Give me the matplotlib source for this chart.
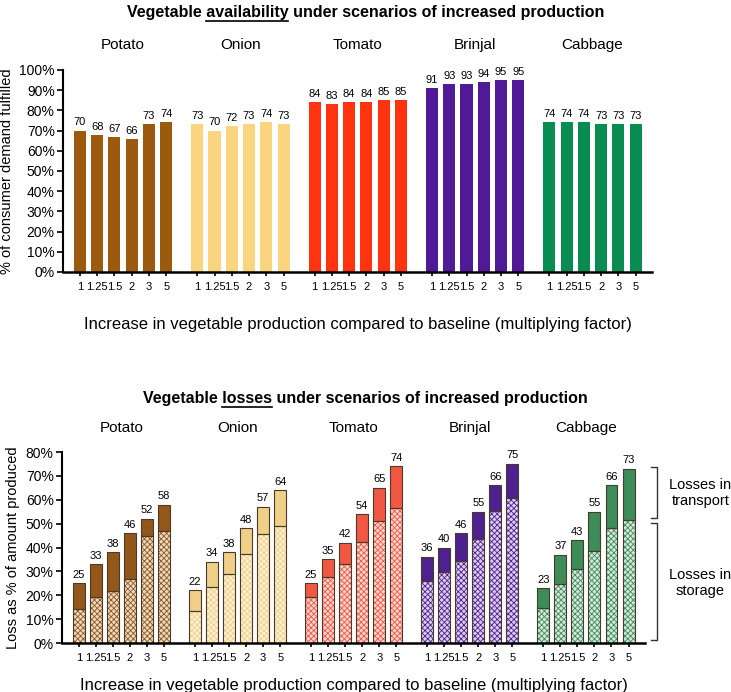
import numpy as np
import matplotlib
matplotlib.use("Agg")
import matplotlib.pyplot as plt
from matplotlib.lines import Line2D
from matplotlib.transforms import blended_transform_factory

plt.rcParams['font.family'] = ['Liberation Sans', 'DejaVu Sans']
plt.rcParams['hatch.linewidth'] = 0.6

vegetables = ["Potato", "Onion", "Tomato", "Brinjal", "Cabbage"]
factors = ["1", "1.25", "1.5", "2", "3", "5"]

# % of consumer demand fulfilled
availability = {
    "Potato": [70, 68, 67, 66, 73, 74],
    "Onion": [73, 70, 72, 73, 74, 73],
    "Tomato": [84, 83, 84, 84, 85, 85],
    "Brinjal": [91, 93, 93, 94, 95, 95],
    "Cabbage": [74, 74, 74, 73, 73, 73],
}

# total losses (% of amount produced) and the storage part of it
loss_total = {
    "Potato": [25, 33, 38, 46, 52, 58],
    "Onion": [22, 34, 38, 48, 57, 64],
    "Tomato": [25, 35, 42, 54, 65, 74],
    "Brinjal": [36, 40, 46, 55, 66, 75],
    "Cabbage": [23, 37, 43, 55, 66, 73],
}
loss_storage = {
    "Potato": [14.1, 19.4, 21.8, 26.7, 45.0, 47.0],
    "Onion": [13.5, 23.3, 28.9, 37.4, 45.5, 49.0],
    "Tomato": [19.1, 27.5, 33.1, 42.2, 51.2, 56.5],
    "Brinjal": [26.1, 29.9, 34.3, 43.4, 55.4, 60.9],
    "Cabbage": [14.8, 24.6, 30.9, 38.4, 48.2, 51.5],
}

top_colors = ["#9C5A0F", "#FAD47F", "#FF3310", "#501A96", "#088C52"]
loss_colors = ["#93571A", "#F0D088", "#F25743", "#4E2090", "#3D8C5A"]
storage_tint = ["#E9D8C2", "#FBF0D2", "#FBD3CC", "#D9CCEB", "#D2E8DA"]

group_step = 6.8
fig = plt.figure(figsize=(7.31, 6.92), dpi=100)
ax1 = fig.add_axes([0.0862, 0.607, 0.806, 0.292])
ax2 = fig.add_axes([0.0848, 0.0708, 0.7975, 0.276])

xpos_all = []
xlab_all = []
for g, veg in enumerate(vegetables):
    x = g * group_step + np.arange(len(factors))
    xpos_all += list(x)
    xlab_all += factors
    # availability
    vals = availability[veg]
    ax1.bar(x, vals, width=0.7, color=top_colors[g], linewidth=0)
    for xi, v in zip(x, vals):
        ax1.text(xi, v + 1.5, f"{v:.0f}", ha="center", va="bottom", fontsize=8)
    ax1.text(x.mean(), 109, veg, ha="center", va="bottom", fontsize=11, clip_on=False)
    # losses
    tot = np.array(loss_total[veg])
    sto = np.array(loss_storage[veg])
    ax2.bar(x, sto, width=0.7, color=storage_tint[g], edgecolor=loss_colors[g],
            hatch="xxxxxx", linewidth=0)
    ax2.bar(x, tot - sto, bottom=sto, width=0.7, color=loss_colors[g], linewidth=0)
    ax2.bar(x, sto, width=0.7, fill=False, edgecolor="#4a3a2a", linewidth=0.8)
    ax2.bar(x, tot - sto, bottom=sto, width=0.7, fill=False, edgecolor="#4a3a2a", linewidth=0.8)
    for xi, v in zip(x, tot):
        ax2.text(xi, v + 1.5, f"{v:.0f}", ha="center", va="bottom", fontsize=8)
    ax2.text(x.mean(), 87, veg, ha="center", va="bottom", fontsize=11, clip_on=False)

xmax = 4 * group_step + 5
for ax, top in ((ax1, 100), (ax2, 80)):
    ax.set_xlim(-0.98, xmax + 0.96)
    ax.set_ylim(0, top)
    ax.set_yticks(np.arange(0, top + 1, 10))
    ax.set_yticklabels([f"{t}%" for t in range(0, top + 1, 10)], fontsize=10)
    ax.set_xticks(xpos_all)
    ax.set_xticklabels(xlab_all, fontsize=8)
    ax.spines[["top", "right"]].set_visible(False)
    ax.spines["left"].set_linewidth(1.5)
    ax.spines["bottom"].set_linewidth(1.8)
    ax.tick_params(axis="y", length=4, width=1.2, pad=2)
    ax.tick_params(axis="x", length=3, width=1.2, pad=4)
    ax.set_xlabel("Increase in vegetable production compared to baseline (multiplying factor)",
                  fontsize=12, labelpad=18)

ax1.set_ylabel("% of consumer demand fulfilled", fontsize=10.5, labelpad=4)
ax2.set_ylabel("Loss as % of amount produced", fontsize=10.5, labelpad=4)
ax2.xaxis.labelpad = 11


def underlined_title(y, prefix, word, suffix):
    full = prefix + word + suffix
    t = fig.text(0.5, y, full, ha="center", va="center", fontsize=11.5, fontweight="bold")
    fig.canvas.draw()
    r = fig.canvas.get_renderer()
    bb = t.get_window_extent(r)
    tmp1 = fig.text(0, 0, prefix + word, fontsize=11.5, fontweight="bold")
    tmp2 = fig.text(0, 0, word, fontsize=11.5, fontweight="bold")
    w1 = tmp1.get_window_extent(r).width
    w2 = tmp2.get_window_extent(r).width
    tmp1.remove()
    tmp2.remove()
    x1 = bb.x0 + w1
    x0 = x1 - w2
    yline = bb.y0 - 1
    W, H = fig.bbox.width, fig.bbox.height
    fig.add_artist(Line2D([x0 / W, x1 / W], [yline / H, yline / H],
                          transform=fig.transFigure, color="black", lw=1.2))


underlined_title(1 - 12 / 692, "Vegetable ", "availability", " under scenarios of increased production")
underlined_title(1 - 398 / 692, "Vegetable ", "losses", " under scenarios of increased production")

# brackets for transport / storage losses
tr = blended_transform_factory(fig.transFigure, ax2.transData)
bx, bx0 = 657 / 731, 651 / 731
for y0, y1, label, ylab in ((52.4, 73.7, "Losses in\ntransport", 63),
                            (1.3, 50.3, "Losses in\nstorage", 25)):
    fig.add_artist(Line2D([bx0, bx, bx, bx0], [y1, y1, y0, y0], transform=tr,
                          color="#333333", lw=1.0))
    fig.text(0.958, ylab, label, transform=tr, ha="center", va="center", fontsize=10.5)

fig.savefig("out.png", dpi=100)
